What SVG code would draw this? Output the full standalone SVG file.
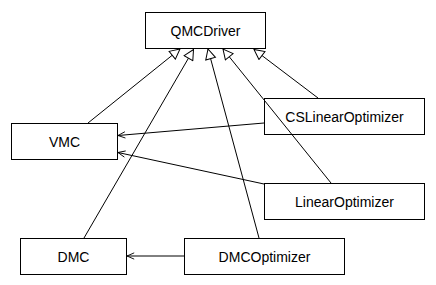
<svg xmlns="http://www.w3.org/2000/svg" width="436" height="285" viewBox="0 0 436 285">
  <style>
    .box { fill: #ffffff; stroke: #000000; stroke-width: 1; }
    .label { font-family: "Liberation Sans", Arial, Helvetica, sans-serif; font-size: 14px; fill: #000000; text-anchor: middle; }
    .inherit { fill: none; stroke: #000000; stroke-width: 1; marker-end: url(#hollow); }
    .uses { fill: none; stroke: #000000; stroke-width: 1; marker-end: url(#open); }
  </style>
  <defs>
    <!-- hollow triangle for generalization -->
    <marker id="hollow" viewBox="0 0 12 12" refX="11" refY="6" markerWidth="12" markerHeight="12" markerUnits="userSpaceOnUse" orient="auto">
      <path d="M1,1 L11,6 L1,11 Z" fill="#ffffff" stroke="#000000" stroke-width="1"/>
    </marker>
    <!-- open arrowhead for association -->
    <marker id="open" viewBox="0 0 10 10" refX="9" refY="5" markerWidth="9" markerHeight="9" markerUnits="userSpaceOnUse" orient="auto">
      <path d="M1,1.5 L9,5 L1,8.5" fill="none" stroke="#000000" stroke-width="1"/>
    </marker>
  </defs>

  <g id="QMCDriver">
    <rect class="box" x="145.5" y="12.5" width="120" height="36"/>
    <text class="label" x="205.5" y="35.5">QMCDriver</text>
  </g>
  <g id="VMC">
    <rect class="box" x="11.5" y="123.5" width="106" height="36"/>
    <text class="label" x="64.5" y="147">VMC</text>
  </g>
  <g id="CSLinearOptimizer">
    <rect class="box" x="264.5" y="98.5" width="160" height="36"/>
    <text class="label" x="344.5" y="121.5">CSLinearOptimizer</text>
  </g>
  <g id="LinearOptimizer">
    <rect class="box" x="264.5" y="183.5" width="160" height="36"/>
    <text class="label" x="344.5" y="206.5">LinearOptimizer</text>
  </g>
  <g id="DMC">
    <rect class="box" x="20.5" y="238.5" width="106" height="36"/>
    <text class="label" x="73.5" y="261.5">DMC</text>
  </g>
  <g id="DMCOptimizer">
    <rect class="box" x="184.5" y="238.5" width="160" height="36"/>
    <text class="label" x="264.5" y="261.5">DMCOptimizer</text>
  </g>

  <!-- edges drawn last so crossings stay visible over the boxes -->
  <g id="connectors">
    <line class="inherit" x1="88" y1="123" x2="180" y2="49"/>
    <line class="inherit" x1="84" y1="238" x2="193.5" y2="49.5"/>
    <line class="inherit" x1="259" y1="238" x2="208" y2="49"/>
    <line class="inherit" x1="331" y1="183" x2="223" y2="49"/>
    <line class="inherit" x1="318" y1="98" x2="254" y2="49.5"/>
    <line class="uses" x1="264" y1="123" x2="118" y2="135.5"/>
    <line class="uses" x1="264" y1="184" x2="118" y2="152.5"/>
    <line class="uses" x1="184" y1="256" x2="127" y2="256"/>
  </g>
</svg>
